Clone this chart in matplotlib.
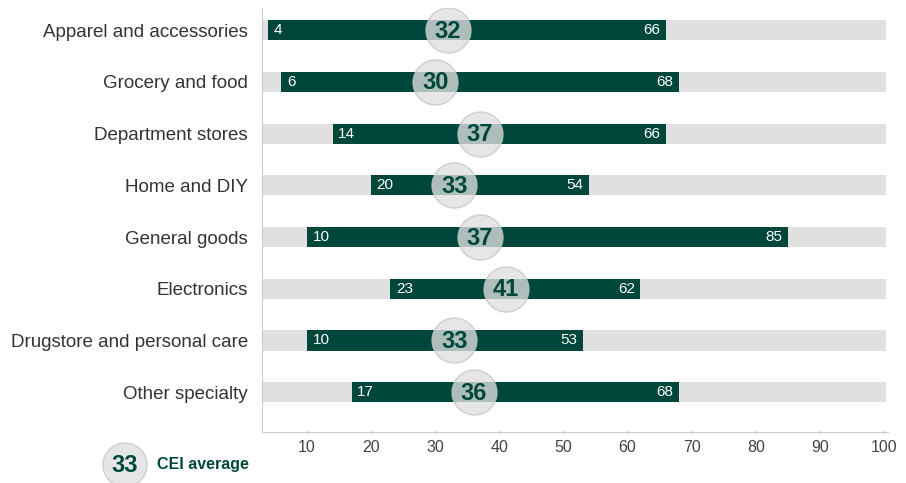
import matplotlib
matplotlib.use("Agg")
import matplotlib.pyplot as plt
from matplotlib.patches import Ellipse

# ---- data -------------------------------------------------------------
categories = ["Apparel and accessories", "Grocery and food",
              "Department stores", "Home and DIY", "General goods",
              "Electronics", "Drugstore and personal care",
              "Other specialty"]
low = [4, 6, 14, 20, 10, 23, 10, 17]
high = [66, 68, 66, 54, 85, 62, 53, 68]
average = [32, 30, 37, 33, 37, 41, 33, 36]
x_ticks = [10, 20, 30, 40, 50, 60, 70, 80, 90, 100]
legend_value = 33

GREEN = "#00473b"
TRACK = "#e0e0e0"
FONT = "Liberation Sans"

plt.rcParams["font.family"] = [FONT, "DejaVu Sans"]

fig = plt.figure(figsize=(9.06, 4.83), dpi=100)
ax = fig.add_axes([262 / 906, 1 - 432 / 483, 626 / 906, 424 / 483])

rows = list(range(len(categories)))
bar_h = 0.39

# grey track across the whole axis
ax.barh(rows, [100.3 - 3] * len(categories), left=3, height=bar_h,
        color=TRACK, zorder=1)
# dark range bar
ax.barh(rows, [h - l for l, h in zip(low, high)], left=low,
        height=bar_h, color=GREEN, zorder=2)

for i, (l, h, a) in enumerate(zip(low, high, average)):
    ax.annotate(str(l), (l, i), xytext=(4, 0), textcoords="offset points",
                ha="left", va="center", color="white", fontsize=11,
                zorder=3)
    ax.annotate(str(h), (h, i), xytext=(-4, 0), textcoords="offset points",
                ha="right", va="center", color="white", fontsize=11,
                zorder=3)
    ax.scatter([a], [i], s=1050, color=TRACK, alpha=0.78,
               edgecolors="#c4c4c4", linewidths=1, zorder=4)
    ax.text(a, i + 0.02, str(a), ha="center", va="center", color=GREEN,
            fontsize=17, fontweight="bold", zorder=5)

ax.set_xlim(3, 100.6)
ax.set_ylim(len(categories) - 1 + 0.77, -0.43)
ax.set_yticks(rows)
ax.set_yticklabels(categories, fontsize=13.5, color="#333333")
ax.set_xticks(x_ticks)
ax.set_xticklabels([str(t) for t in x_ticks], fontsize=11.5, color="#444444")
ax.tick_params(axis="y", length=0, pad=10)
ax.tick_params(axis="x", length=2, width=2, color="#cccccc", pad=5,
               direction="inout")
for side in ("top", "right"):
    ax.spines[side].set_visible(False)
ax.spines["left"].set_color("#cccccc")
ax.spines["bottom"].set_color("#cccccc")

# legend: circle + label in figure coords
fig.patches.append(Ellipse(
    (125 / 906, 1 - 465 / 483), 44 / 906, 44 / 483,
    transform=fig.transFigure, facecolor=TRACK, alpha=0.78,
    edgecolor="#c4c4c4", linewidth=1, zorder=1))
fig.text(125 / 906, 1 - 466 / 483, str(legend_value), ha="center",
         va="center", color=GREEN, fontsize=17, fontweight="bold",
         zorder=5)
fig.text(157 / 906, 1 - 465 / 483, "CEI average", ha="left", va="center",
         color=GREEN, fontsize=11.5, fontweight="bold", zorder=5)

fig.savefig("out.png", dpi=100)
